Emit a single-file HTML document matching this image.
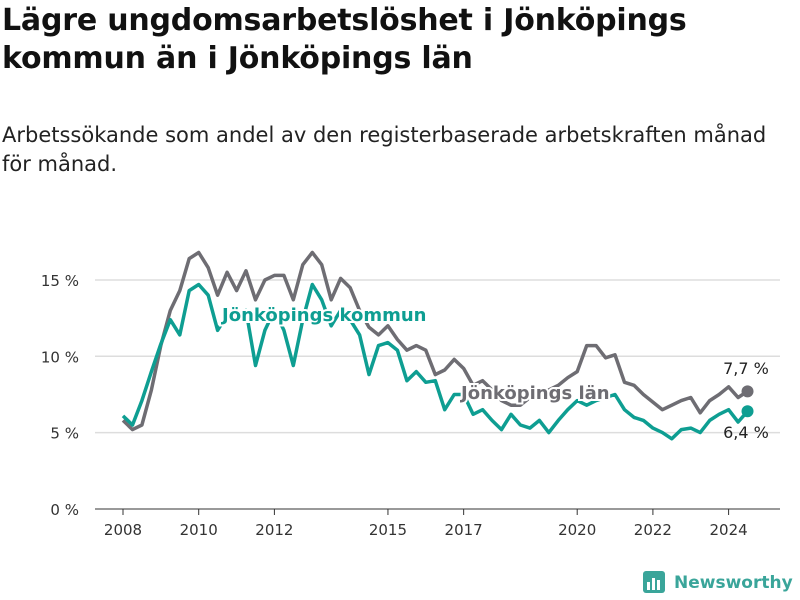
<!DOCTYPE html>
<html><head><meta charset="utf-8">
<style>
body{margin:0;width:800px;height:600px;background:#fff;font-family:"DejaVu Sans","Liberation Sans",sans-serif;overflow:hidden;position:relative}
h1{position:absolute;left:2px;top:2px;margin:0;font-size:30px;line-height:38px;font-weight:bold;color:#111;letter-spacing:-0.2px}
.sub{position:absolute;left:2px;top:121px;font-size:21px;line-height:29px;color:#222}
svg{position:absolute;left:0;top:0}
</style></head><body>
<h1>Lägre ungdomsarbetslöshet i Jönköpings<br>kommun än i Jönköpings län</h1>
<div class="sub">Arbetssökande som andel av den registerbaserade arbetskraften månad<br>för månad.</div>
<svg id="chart" width="800" height="600"></svg>
<script>
const years=[2008,2010,2012,2015,2017,2020,2022,2024];
const yTicks=[0,5,10,15];
const lan=[5.8,5.2,5.5,7.8,10.7,13.0,14.3,16.4,16.8,15.8,14.0,15.5,14.3,15.6,13.7,15.0,15.3,15.3,13.7,16.0,16.8,16.0,13.7,15.1,14.5,13.0,11.9,11.4,12.0,11.1,10.4,10.7,10.4,8.8,9.1,9.8,9.2,8.1,8.4,7.8,7.1,6.8,6.8,7.3,7.5,7.8,8.1,8.6,9.0,10.7,10.7,9.9,10.1,8.3,8.1,7.5,7.0,6.5,6.8,7.1,7.3,6.3,7.1,7.5,8.0,7.3,7.7];
const kommun=[6.1,5.5,7.1,9.0,10.8,12.4,11.4,14.3,14.7,14.0,11.7,12.7,12.4,13.0,9.4,11.7,13.0,11.7,9.4,12.4,14.7,13.7,12.0,13.0,12.4,11.4,8.8,10.7,10.9,10.4,8.4,9.0,8.3,8.4,6.5,7.5,7.5,6.2,6.5,5.8,5.2,6.2,5.5,5.3,5.8,5.0,5.8,6.5,7.1,6.8,7.1,7.3,7.5,6.5,6.0,5.8,5.3,5.0,4.6,5.2,5.3,5.0,5.8,6.2,6.5,5.7,6.4];
const startYear=2008, step=0.25;
const NS="http://www.w3.org/2000/svg";
const svg=document.getElementById('chart');
const xS=t=>123+(t-2008)*37.85;
const yS=v=>509-v*15.27;
function mk(tag,attrs,parent){const e=document.createElementNS(NS,tag);for(const k in attrs)e.setAttribute(k,attrs[k]);(parent||svg).appendChild(e);return e;}
yTicks.forEach(v=>{
  const l=mk('line',{x1:95,x2:780,y1:yS(v),y2:yS(v),stroke:v===0?'#333':'#ddd','stroke-width':v===0?1:1.5});
  
  
  const t=mk('text',{x:79,y:yS(v)+6,'text-anchor':'end','font-size':15,fill:'#333'});
  t.textContent=v+' %';
  
  
});
years.forEach(y=>{
  const tk=mk('line',{x1:xS(y),x2:xS(y),y1:509,y2:515,stroke:'#333'});
  
  
  const t=mk('text',{x:xS(y),y:535,'text-anchor':'middle','font-size':15,fill:'#333'});
  t.textContent=y;
  
  
});
function line(data,color,name){
  const d=data.map((v,i)=>(i?'L':'M')+xS(startYear+i*step).toFixed(1)+','+yS(v).toFixed(1)).join('');
  const p=mk('path',{d:d,fill:'none',stroke:color,'stroke-width':3.5,'stroke-linejoin':'round'});
  
  
  const n=data.length-1;
  const c=mk('circle',{cx:xS(startYear+n*step),cy:yS(data[n]),r:6,fill:color});
  
  
}
line(lan,'#6e6d73','series-lan');
line(kommun,'#0e9e92','series-kommun');
function label(txt,x,y,color,name,bold,anchor){
  const t=mk('text',{x:x,y:y,'font-size':bold?18:16,'font-weight':bold?'bold':'normal',fill:color,stroke:bold?'#fff':'none','stroke-width':4,'paint-order':'stroke','text-anchor':anchor||'start'});
  t.textContent=txt;
  
  
}
label('Jönköpings kommun',222,321,'#0e9e92','label-kommun',true);
label('Jönköpings län',461,399,'#6e6d73','label-lan',true);
label('7,7 %',746,374,'#222','end-value-lan',false,'middle');
label('6,4 %',746,438,'#222','end-value-kommun',false,'middle');
</script>
<div style="position:absolute;left:642px;top:570px;display:flex;align-items:center">
<svg width="24" height="26" style="position:static"><rect x="1" y="1" width="22" height="22" rx="3" fill="#3aa59a"/><rect x="5" y="12" width="3" height="8" fill="#fff"/><rect x="10" y="8" width="3" height="12" fill="#fff"/><rect x="15" y="10" width="3" height="10" fill="#fff"/></svg>
<span style="font-size:17px;font-weight:bold;color:#3aa59a;margin-left:8px">Newsworthy</span></div>
</body></html>
